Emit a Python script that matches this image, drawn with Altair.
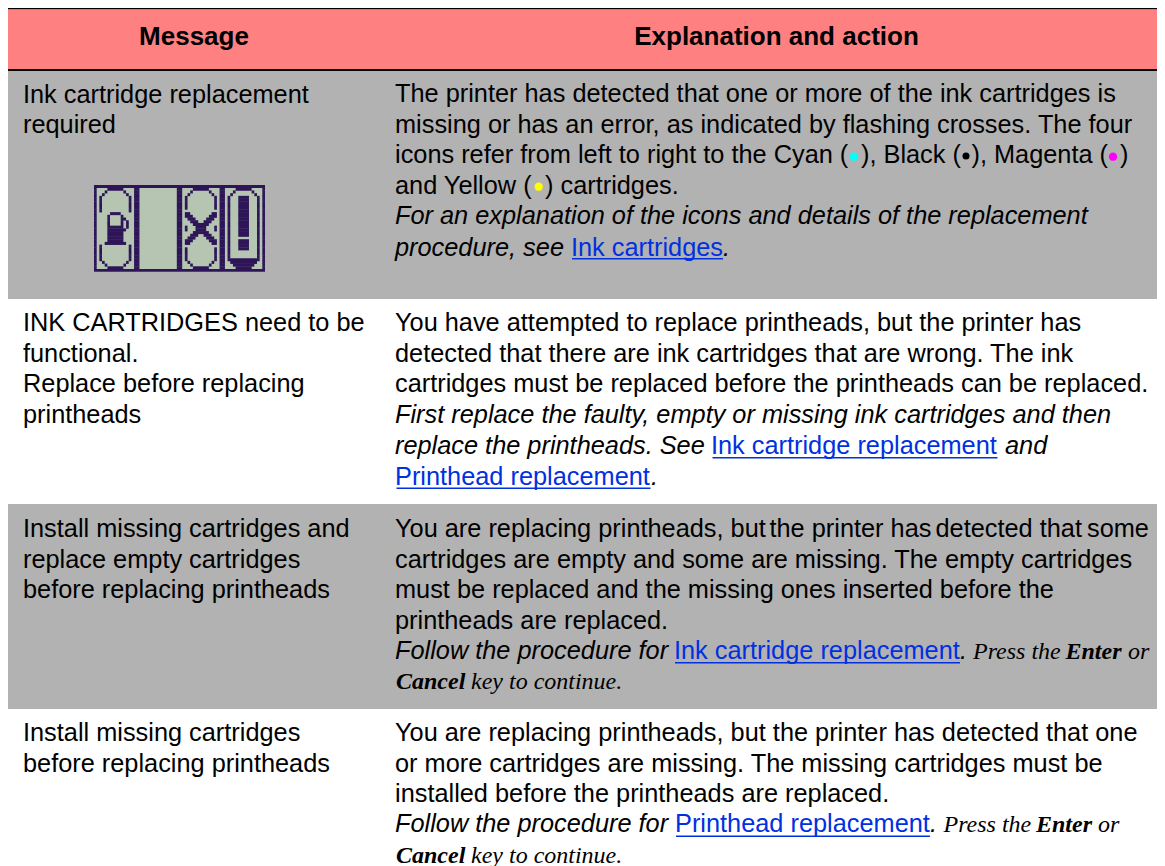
import altair as alt

# ---- table content ----
BODY = "Liberation Sans"
SERIF = "Liberation Serif"
header_text = ["Message", "Explanation and action"]
header_x = [194, 776.5]
header_y = [45, 45]

L, R = 23, 395
runs = [
 # row 1 left
 ("Ink cartridge replacement", L, 103, "n"), ("required", L, 133, "n"),
 # row 1 right
 ("The printer has detected that one or more of the ink cartridges is", R, 102, "n"),
 ("missing or has an error, as indicated by flashing crosses. The four", R, 132.7, "n"),
 ("icons refer from left to right to the Cyan (", R, 163.2, "n"),
 ("), Black (", 861, 163.2, "n"),
 ("), Magenta (", 971.5, 163.2, "n"),
 (")", 1120, 163.2, "n"),
 ("and Yellow (", R, 194, "n"),
 (") cartridges.", 545, 194, "n"),
 ("For an explanation of the icons and details of the replacement", R, 224.3, "i"),
 ("procedure, see ", R, 255.5, "i"),
 ("Ink cartridges", 571, 255.5, "l"),
 (".", 723, 255.5, "i"),
 # row 2 left
 ("INK CARTRIDGES need to be", L, 330.7, "n"), ("functional.", L, 361.5, "n"),
 ("Replace before replacing", L, 392, "n"), ("printheads", L, 423, "n"),
 # row 2 right
 ("You have attempted to replace printheads, but the printer has", R, 330.7, "n"),
 ("detected that there are ink cartridges that are wrong. The ink", R, 361.5, "n"),
 ("cartridges must be replaced before the printheads can be replaced.", R, 392, "n"),
 ("First replace the faulty, empty or missing ink cartridges and then", R, 423, "i"),
 ("replace the printheads. See ", R, 454, "i"),
 ("Ink cartridge replacement", 711, 454, "l"),
 ("and", 1005, 454, "i"),
 ("Printhead replacement", R, 484.7, "l"),
 (".", 651, 484.7, "i"),
 # row 3 left
 ("Install missing cartridges and", L, 536.7, "n"),
 ("replace empty cartridges", L, 567.5, "n"),
 ("before replacing printheads", L, 598, "n"),
 # row 3 right
 ("You are replacing printheads, but", R, 536.7, "n"),
 ("the printer has", 769.5, 536.7, "n"),
 ("detected that", 935.5, 536.7, "n"),
 ("some", 1087, 536.7, "n"),
 ("cartridges are empty and some are missing. The empty cartridges", R, 567.5, "n"),
 ("must be replaced and the missing ones inserted before the", R, 598, "n"),
 ("printheads are replaced.", R, 628.5, "n"),
 ("Follow the procedure for ", R, 659, "i"),
 ("Ink cartridge replacement", 674, 659, "l"),
 (".", 960, 659, "i"),
 ("Press the ", 973, 659, "si"), ("Enter", 1065.5, 659, "sb"), ("or", 1128, 659, "si"),
 ("Cancel", 396, 689, "sb"), ("key to continue.", 471, 689, "si"),
 # row 4 left
 ("Install missing cartridges", L, 740.7, "n"),
 ("before replacing printheads", L, 771.5, "n"),
 # row 4 right
 ("You are replacing printheads, but the printer has detected that one", R, 740.7, "n"),
 ("or more cartridges are missing. The missing cartridges must be", R, 771.5, "n"),
 ("installed before the printheads are replaced.", R, 801.7, "n"),
 ("Follow the procedure for ", R, 832, "i"),
 ("Printhead replacement", 675, 832, "l"),
 (".", 930, 832, "i"),
 ("Press the ", 943.5, 832, "si"), ("Enter", 1036, 832, "sb"), ("or", 1098, 832, "si"),
 ("Cancel", 396, 862.7, "sb"), ("key to continue.", 471, 862.7, "si"),
]

dots = [(854, 156.7, "#00ffff", 69), (966, 156, "#000000", 50), (1113, 156.7, "#ff00ff", 69), (538.7, 186.7, "#ffff00", 69)]

bands = [
 (8, 1157, 8, 9.5, "#000000"),
 (8, 1157, 9.5, 69, "#ff8080"),
 (8, 1157, 69, 71, "#000000"),
 (8, 1157, 71, 299, "#b2b2b2"),
 (8, 1157, 299, 504, "#ffffff"),
 (8, 1157, 504, 709, "#b2b2b2"),
 (8, 1157, 709, 866, "#ffffff"),
]
link_rules = [
 (572, 723, 258), (712.5, 997.5, 457), (396.5, 650.5, 487.5), (675, 960, 662), (676, 930, 835.5),
]

# Icon: 4 panels of 14 by 32 LCD cells
p1 = ["##############","....######....","...#......#...","..#........#..",".#..........#.",".#..........#.",".#..........#.",".#..........#.",".#..........#.",".#..........#.",".....####.....","....#....#....","....#....##...","....#....#.#..","....#....#.#..","....######.#..","....#######...","....######....","....######....","....######....","....######....","...########...",".#..........#.",".#..........#.",".#..........#.",".#..........#.",".#..........#.",".#..........#.","..#........#..","...#......#...","....######....","##############"]
p2 = ["##############"] + ["."*14]*30 + ["##############"]
p3 = ["##############","....######....","...#......#...","..#........#..",".#..........#.",".#..........#.",".#..........#.",".#..........#.",".#..........#.","..............",".##........##.",".###......###.","..###....###..","...###..###...","....######....",".#...####...#.",".#...####...#.","....######....","...###..###...","..###....###..",".###......###.",".##........##.","..............",".#..........#.",".#..........#.",".#..........#.",".#..........#.",".#..........#.","..#........#..","...#......#...","....######....","##############"]
p4 = ["##############","....######....","...#......#...","..#........#.."] + [".#...####...#."]*15 + [".#..........#."] + [".#...####...#."]*4 + [".#..........#."]*3 + [".############.","..##########..","...########...","....######....","##############"]

ICON_X, ICON_Y = 94.0, 185.0
CELL_W, CELL_H = 171 / 64, 86.7 / 32
OVERLAP = 0.35

rows = []
for r in range(32):
    line = "#" + p1[r] + "##" + p2[r] + "##" + p3[r] + "##" + p4[r] + "#"
    c = 0
    while c < len(line):
        if line[c] == "#":
            e = c
            while e + 1 < len(line) and line[e + 1] == "#":
                e += 1
            rows.append({"x": ICON_X + c * CELL_W, "x2": ICON_X + (e + 1) * CELL_W,
                         "y": ICON_Y + r * CELL_H, "y2": ICON_Y + (r + 1) * CELL_H + (OVERLAP if r < 31 else 0)})
            c = e + 1
        else:
            c += 1

LINK = "#0030e0"
styles = {
 "n": dict(font=BODY, fontSize=25.33, fontStyle="normal", fontWeight="normal", color="#000000"),
 "i": dict(font=BODY, fontSize=25.33, fontStyle="italic", fontWeight="normal", color="#000000"),
 "l": dict(font=BODY, fontSize=25.33, fontStyle="normal", fontWeight="normal", color=LINK),
 "si": dict(font=SERIF, fontSize=24, fontStyle="italic", fontWeight="normal", color="#000000"),
 "sb": dict(font=SERIF, fontSize=24, fontStyle="italic", fontWeight="bold", color="#000000"),
}

W, H = 1149, 858
xs = alt.Scale(domain=[8, 1157], range=[0, W], nice=False, zero=False)
ys = alt.Scale(domain=[8, 866], range=[0, H], nice=False, zero=False)
X = lambda f: alt.X(f, type="quantitative", scale=xs, axis=None)
Y = lambda f: alt.Y(f, type="quantitative", scale=ys, axis=None)

band_data = alt.Data(values=[{"x": a, "x2": b, "y": c, "y2": d, "color": e} for a, b, c, d, e in bands])
band_layer = alt.Chart(band_data).mark_rect(strokeWidth=0).encode(
    x=X("x"), x2="x2", y=Y("y"), y2="y2", color=alt.Color("color:N", scale=None))

icon_bg = alt.Chart(alt.Data(values=[{"x": ICON_X, "x2": ICON_X + 171, "y": ICON_Y, "y2": ICON_Y + 86.7}])).mark_rect(
    color="#b5c5b2", strokeWidth=0).encode(x=X("x"), x2="x2", y=Y("y"), y2="y2")
icon = alt.Chart(alt.Data(values=rows)).mark_rect(color="#2e1558", strokeWidth=0).encode(
    x=X("x"), x2="x2", y=Y("y"), y2="y2")

rule_layer = alt.Chart(alt.Data(values=[{"x": a, "x2": b, "y": c, "y2": c + 1.5} for a, b, c in link_rules])).mark_rect(
    color=LINK, strokeWidth=0).encode(x=X("x"), x2="x2", y=Y("y"), y2="y2")

dot_layer = alt.Chart(alt.Data(values=[{"x": a, "y": b, "color": c, "s": s} for a, b, c, s in dots])).mark_point(
    filled=True, shape="circle", opacity=1, strokeWidth=0).encode(
    x=X("x"), y=Y("y"), color=alt.Color("color:N", scale=None), size=alt.Size("s:Q", scale=None, legend=None))

header_layer = alt.Chart(alt.Data(values=[{"t": t, "x": x, "y": y} for t, x, y in zip(header_text, header_x, header_y)])).mark_text(
    font=BODY, fontSize=26, fontWeight="bold", align="center", baseline="alphabetic", color="#000000"
).encode(x=X("x"), y=Y("y"), text="t:N")

text_layers = []
for key, st in styles.items():
    vals = [{"t": t, "x": x, "y": y} for t, x, y, k in runs if k == key]
    text_layers.append(
        alt.Chart(alt.Data(values=vals)).mark_text(
            align="left", baseline="alphabetic", **st
        ).encode(x=X("x"), y=Y("y"), text="t:N"))

chart = alt.layer(band_layer, icon_bg, icon, rule_layer, dot_layer, header_layer, *text_layers).properties(
    width=W, height=H, padding=0, background="#ffffff"
).configure_view(stroke=None)

chart.save("out.html", embed_options={"renderer": "svg", "actions": False})
